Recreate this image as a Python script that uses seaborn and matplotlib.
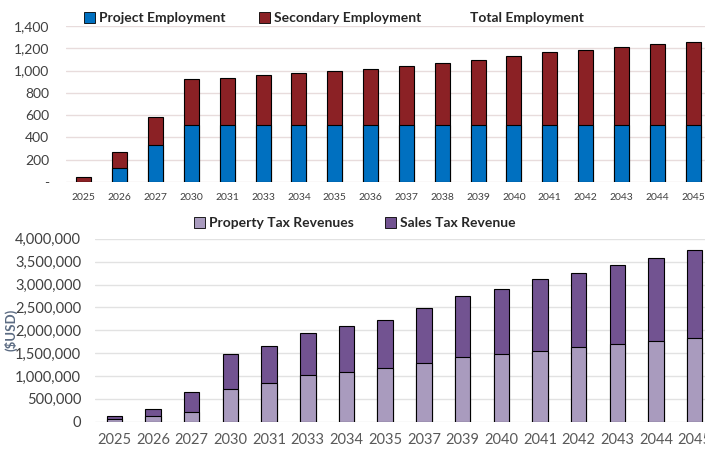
import pandas as pd
import matplotlib.pyplot as plt
import seaborn as sns
from matplotlib.patches import Patch
from matplotlib.ticker import FuncFormatter

years_emp = ["2025", "2026", "2027", "2030", "2031", "2033", "2034", "2035", "2036",
             "2037", "2038", "2039", "2040", "2041", "2042", "2043", "2044", "2045"]
project_emp = [0, 126, 332, 510, 510, 510, 510, 510, 510, 510, 510, 510, 510, 510, 510, 510, 510, 510]
secondary_emp = [48, 140, 251, 411, 420, 447, 465, 483, 507, 534, 561, 585, 621, 657, 675, 698, 725, 749]

years_rev = ["2025", "2026", "2027", "2030", "2031", "2033", "2034", "2035",
             "2037", "2039", "2040", "2041", "2042", "2043", "2044", "2045"]
property_tax = [66000, 118000, 212000, 709000, 840000, 1030000, 1088000, 1175000,
                1284000, 1409000, 1475000, 1547000, 1628000, 1694000, 1766000, 1838000]
sales_tax = [52000, 167000, 431000, 766000, 810000, 918000, 1006000, 1045000,
             1196000, 1348000, 1429000, 1573000, 1619000, 1726000, 1824000, 1919000]

emp = pd.DataFrame({"year": years_emp, "project": project_emp, "secondary": secondary_emp})
emp["total"] = emp["project"] + emp["secondary"]
rev = pd.DataFrame({"year": years_rev, "property": property_tax, "sales": sales_tax})
rev["total"] = rev["property"] + rev["sales"]

c_proj, c_sec = "#0070C0", "#8B2125"
c_prop, c_sales = "#A99BBE", "#725391"

sns.set_style("white")
plt.rcParams["font.family"] = ["Lato", "DejaVu Sans"]

fig = plt.figure(figsize=(7.05, 4.49), dpi=100)
ax1 = fig.add_axes([0.0936, 0.595, 0.915, 0.347])
ax2 = fig.add_axes([0.1348, 0.061, 0.878, 0.407])

# top: employment
sns.barplot(data=emp, x="year", y="total", color=c_sec, saturation=1, width=0.42,
            edgecolor="black", linewidth=0.8, ax=ax1)
sns.barplot(data=emp, x="year", y="project", color=c_proj, saturation=1, width=0.42,
            edgecolor="black", linewidth=0.8, ax=ax1)
ax1.set_ylim(0, 1400)
ax1.set_yticks(range(0, 1401, 200))
ax1.yaxis.set_major_formatter(FuncFormatter(lambda v, p: "-" if v == 0 else f"{v:,.0f}"))
ax1.grid(axis="y", color="#E8DCDC", linewidth=1)
ax1.set_axisbelow(True)
ax1.set_xlabel("")
ax1.set_ylabel("")
ax1.tick_params(axis="x", labelsize=7.5, colors="#404040", length=0, pad=8)
ax1.tick_params(axis="y", labelsize=10, colors="#404040", length=0, pad=12)
sns.despine(ax=ax1, left=True, bottom=True)

h1 = [Patch(facecolor=c_proj, edgecolor="black", linewidth=0.6),
      Patch(facecolor=c_sec, edgecolor="black", linewidth=0.6),
      Patch(facecolor="none", edgecolor="none")]
fig.legend(h1, ["Project Employment", "Secondary Employment", "Total Employment"],
           loc="center", bbox_to_anchor=(0.474, 0.96), ncol=3, frameon=False,
           prop={"weight": "bold", "size": 10}, handlelength=0.8, handleheight=0.8,
           handletextpad=0.3, columnspacing=2.4)

# bottom: tax revenues
sns.barplot(data=rev, x="year", y="total", color=c_sales, saturation=1, width=0.4,
            edgecolor="black", linewidth=0.8, ax=ax2)
sns.barplot(data=rev, x="year", y="property", color=c_prop, saturation=1, width=0.4,
            edgecolor="black", linewidth=0.8, ax=ax2)
ax2.set_ylim(0, 4000000)
ax2.set_yticks(range(0, 4000001, 500000))
ax2.yaxis.set_major_formatter(FuncFormatter(lambda v, p: f"{v:,.0f}"))
ax2.grid(axis="y", color="#E2E2E2", linewidth=1)
ax2.set_axisbelow(True)
ax2.set_xlabel("")
ax2.set_ylabel("($USD)", fontsize=9.5, fontweight="bold", color="#5B6B82")
ax2.yaxis.set_label_coords(-0.126, 0.5)
ax2.tick_params(axis="x", labelsize=10.5, colors="#595959", length=0, pad=8)
ax2.tick_params(axis="y", labelsize=10.5, colors="#404040", length=0, pad=10)
sns.despine(ax=ax2, left=True, bottom=True)

h2 = [Patch(facecolor=c_prop, edgecolor="black", linewidth=0.6),
      Patch(facecolor=c_sales, edgecolor="black", linewidth=0.6)]
fig.legend(h2, ["Property Tax Revenues", "Sales Tax Revenue"],
           loc="center", bbox_to_anchor=(0.503, 0.503), ncol=2, frameon=False,
           prop={"weight": "bold", "size": 10}, handlelength=0.8, handleheight=0.8,
           handletextpad=0.3, columnspacing=2.2)

fig.savefig("out.png", dpi=100)
